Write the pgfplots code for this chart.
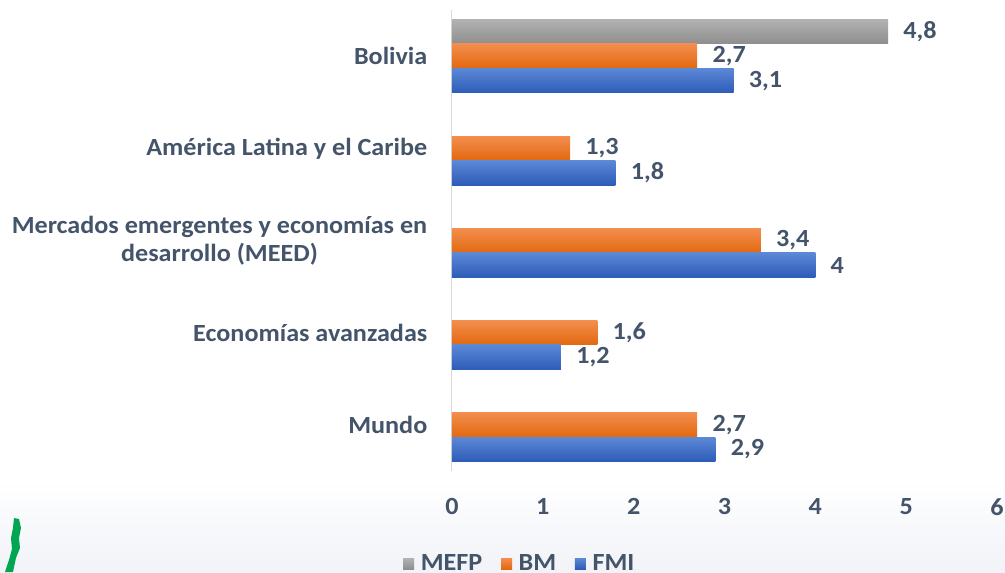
\documentclass[border=0pt]{standalone}
\usepackage{fontspec}
\setmainfont{Carlito}[FakeStretch=1.06]
\usepackage{pgfplots}
\pgfplotsset{compat=1.18}
\definecolor{txt}{HTML}{44546A}
\definecolor{axgray}{HTML}{D9D9D9}
\definecolor{grayT}{HTML}{B2B2B2}
\definecolor{grayB}{HTML}{8E8E8E}
\definecolor{orT}{HTML}{F38E4E}
\definecolor{orB}{HTML}{E2680F}
\definecolor{blT}{HTML}{5C88D6}
\definecolor{blB}{HTML}{2D5CB8}
\definecolor{bgB}{HTML}{F1F3F8}
\definecolor{logo}{HTML}{00A651}
\newcommand{\lblfont}{\fontsize{18.5}{21}\selectfont\bfseries}
\pgfplotsset{
  gbar/.style={draw=none, top color=grayT, bottom color=grayB, bar shift=-0.266},
  obar/.style={draw=none, top color=orT, bottom color=orB, bar shift=0},
  bbar/.style={draw=none, top color=blT, bottom color=blB, bar shift=0.266},
}
\begin{document}
\begin{tikzpicture}
% 1px = 0.75pt; axis origin (0,0) is at pixel (452,471)
\path[use as bounding box] (-339pt,-75.75pt) rectangle (414.75pt,353.25pt);
\shade[top color=white, bottom color=bgB] (-339pt,-75.75pt) rectangle (414.75pt,-6.75pt);
\fill[logo] ([shift={(14*0.75pt,-47*0.75pt)}]-339pt,0pt) -- ++(3.75pt,-0.75pt) -- ++(1.5pt,-6.75pt) -- ++(-1.5pt,-7.5pt) -- ++(0.75pt,-7.5pt) -- ++(-3pt,-7.5pt) -- ++(-2.25pt,-10.5pt) -- ++(-6pt,0pt) -- ++(3pt,9pt) -- ++(2.25pt,8.25pt) -- ++(-0.75pt,8.25pt) -- ++(1.5pt,7.5pt) -- cycle;
\begin{axis}[
  at={(0pt,0pt)}, anchor=south west,
  width=408.75pt, height=345.75pt, scale only axis,
  xbar, xmin=0, xmax=6, ymin=-0.5, ymax=4.5, y dir=reverse,
  bar width=0.266,
  ytick={0,1,2,3,4},
  yticklabels={Bolivia, América Latina y el Caribe, {Mercados emergentes y economías en\\desarrollo (MEED)}, Economías avanzadas, Mundo},
  yticklabel style={align=center, font=\lblfont, text=txt, xshift=-15pt},
  xtick={0,1,2,3,4,5,6},
  xticklabel style={font=\lblfont, text=txt, yshift=-17pt},
  major tick length=0pt,
  axis lines*=left,
  x axis line style={draw=none},
  y axis line style={draw=axgray, line width=0.75pt},
  nodes near coords,
  nodes near coords style={font=\lblfont, text=txt, anchor=west, xshift=8pt},
  /pgf/number format/.cd, use comma, assume math mode=true, /pgfplots/.cd,
  clip=false,
  legend style={draw=none, fill=none, at={(0.125,-0.2)}, anchor=center,
    legend columns=3, font=\lblfont, text=txt,
    /tikz/every odd column/.append style={column sep=3pt},
    /tikz/every even column/.append style={column sep=12pt}},
  legend image code/.code={\fill[#1] (0pt,-4.5pt) rectangle (8.25pt,3.75pt);},
]
\addplot[gbar] coordinates {(4.8,0)};
\addplot[obar] coordinates {(2.7,0)};
\addplot[bbar] coordinates {(3.1,0)};
\addplot[obar, forget plot] coordinates {(1.3,1)};
\addplot[obar, forget plot] coordinates {(3.4,2)};
\addplot[obar, forget plot] coordinates {(1.6,3)};
\addplot[obar, forget plot] coordinates {(2.7,4)};
\addplot[bbar, forget plot] coordinates {(1.8,1)};
\addplot[bbar, forget plot] coordinates {(4,2)};
\addplot[bbar, forget plot] coordinates {(1.2,3)};
\addplot[bbar, forget plot] coordinates {(2.9,4)};
\legend{MEFP, BM, FMI}
\end{axis}
\end{tikzpicture}
\end{document}
